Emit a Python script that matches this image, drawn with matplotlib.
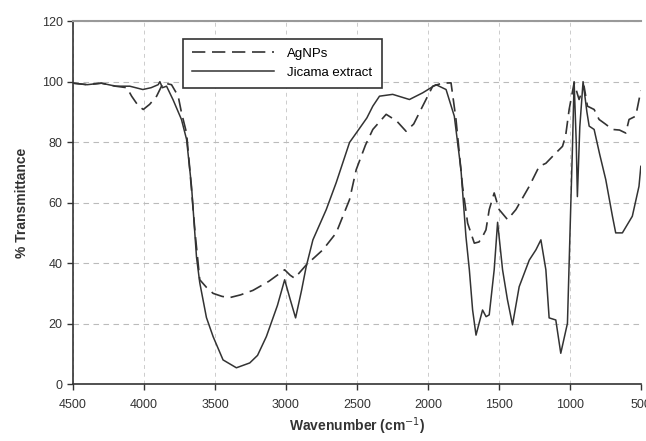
#!/usr/bin/env python3
"""FTIR spectra: AgNPs vs Jicama extract"""

import matplotlib
matplotlib.use('Agg')
import matplotlib.pyplot as plt

plt.rcParams['font.family'] = ['Liberation Sans', 'DejaVu Sans']

# AgNPs (dashed)
agnp_wn = [4500, 4400, 4300, 4200, 4120, 4087, 4040, 4005, 3960, 3911, 3865, 3806,
           3759, 3736, 3700, 3677, 3640, 3607, 3560, 3513, 3450, 3396, 3320, 3232,
           3120, 3009, 2970, 2939, 2857, 2740, 2646, 2552, 2505, 2440, 2388, 2294,
           2220, 2154, 2100, 2037, 1966, 1900, 1837, 1802, 1756, 1720, 1673, 1640,
           1615, 1591, 1568, 1533, 1498, 1439, 1380, 1286, 1216, 1169, 1099, 1052,
           1030, 1005, 970, 935, 900, 876, 829, 794, 750, 700, 650, 606, 583, 536, 500]
agnp_t = [99.5, 99, 99.5, 98.5, 98, 95.2, 92, 90.8, 92.5, 95.2, 99.6, 99,
          95.2, 89.8, 83, 70.9, 50, 34.5, 32, 30, 29, 28.6, 29.5, 31,
          34, 37.8, 36, 35, 39.4, 44.4, 50, 61, 70.9, 79, 84.2, 89.2,
          87, 83.6, 86, 91.9, 98.5, 99.5, 99.6, 87.5, 65.4, 53.2, 46.6, 47,
          48.8, 51, 57.7, 63.2, 57.7, 54.4, 57.7, 65.4, 72, 73, 76.4, 78.6,
          82, 90.8, 99.6, 94.1, 98.5, 91.9, 90.8, 87.5, 86, 84.2, 84, 83, 87.5, 88.6, 97]

# Jicama extract (solid)
jic_wn = [4500, 4400, 4300, 4200, 4100, 4008, 3950, 3900, 3888, 3870, 3841, 3795,
          3736, 3700, 3665, 3630, 3607, 3560, 3513, 3443, 3349, 3255, 3200, 3138,
          3060, 3009, 2970, 2932, 2890, 2857, 2810, 2716, 2646, 2552, 2505, 2430,
          2388, 2341, 2248, 2130, 2037, 1943, 1872, 1814, 1767, 1732, 1708, 1685,
          1661, 1640, 1615, 1590, 1568, 1533, 1509, 1474, 1440, 1404, 1357, 1286,
          1239, 1204, 1169, 1146, 1099, 1064, 1017, 993, 982, 970, 955, 947, 930,
          907, 880, 864, 829, 790, 747, 700, 677, 630, 560, 513, 500]
jic_t = [99.5, 99, 99.5, 98.5, 98.5, 97.4, 98, 99, 100, 98, 98.5, 94,
         87.5, 80.9, 65.4, 42, 33.5, 22, 15.7, 8, 5.4, 7, 9.5, 15.7,
         26, 34.5, 28, 21.9, 31, 38.9, 47.7, 57.7, 66.6, 79.9, 83, 88,
         91.9, 95.2, 95.8, 94.1, 96.3, 99, 97.4, 88.6, 70.9, 48.8, 37.8, 24.5,
         16.2, 20, 24.5, 22.3, 22.9, 37.8, 53.5, 37.8, 28, 19.6, 32.2, 41,
         44.4, 47.7, 37.8, 21.9, 21.2, 10.2, 20.1, 59.9, 77.6, 100, 80, 62, 85,
         100, 90, 85.3, 84.2, 76, 67.6, 55.5, 50, 50, 55.5, 65.4, 72]

x_ticks = [4500, 4000, 3500, 3000, 2500, 2000, 1500, 1000, 500]
y_ticks = [0, 20, 40, 60, 80, 100, 120]

fig = plt.figure(figsize=(6.46, 4.41), dpi=100)
ax = fig.add_axes([0.113, 0.129, 0.879, 0.823])

ax.plot(agnp_wn, agnp_t, color='#333333', linewidth=1.2, dashes=(8, 4), label='AgNPs')
ax.plot(jic_wn, jic_t, color='#333333', linewidth=1.1, label='Jicama extract')

ax.set_xlim(4500, 500)
ax.set_ylim(0, 120)
ax.set_xticks(x_ticks)
ax.set_yticks(y_ticks)
ax.tick_params(labelsize=9, colors='#333333', length=4, width=1)
ax.tick_params(axis='x', pad=7)

ax.grid(axis='y', color='#bbbbbb', linestyle=(0, (5, 4)), linewidth=0.8)
ax.grid(axis='x', color='#cccccc', linestyle=(0, (4, 4)), linewidth=0.7)
ax.set_axisbelow(True)

for side in ['left', 'bottom']:
    ax.spines[side].set_color('#333333')
    ax.spines[side].set_linewidth(1.2)
ax.spines['top'].set_color('#999999')
ax.spines['top'].set_linewidth(1.5)
ax.spines['right'].set_visible(False)

ax.set_xlabel('Wavenumber (cm$^{-1}$)', fontsize=10, fontweight='bold', color='#333333',
              labelpad=3)
ax.set_ylabel('% Transmittance', fontsize=10, fontweight='bold', color='#333333',
              labelpad=9)

leg = ax.legend(loc='upper left', bbox_to_anchor=(0.194, 0.952), fontsize=9.5,
                fancybox=False, framealpha=1, edgecolor='#333333',
                handlelength=6.2, borderpad=0.7, labelspacing=0.5, handletextpad=1.0,
                borderaxespad=0)
leg.get_frame().set_linewidth(1.2)

fig.savefig('out.png', dpi=100)
